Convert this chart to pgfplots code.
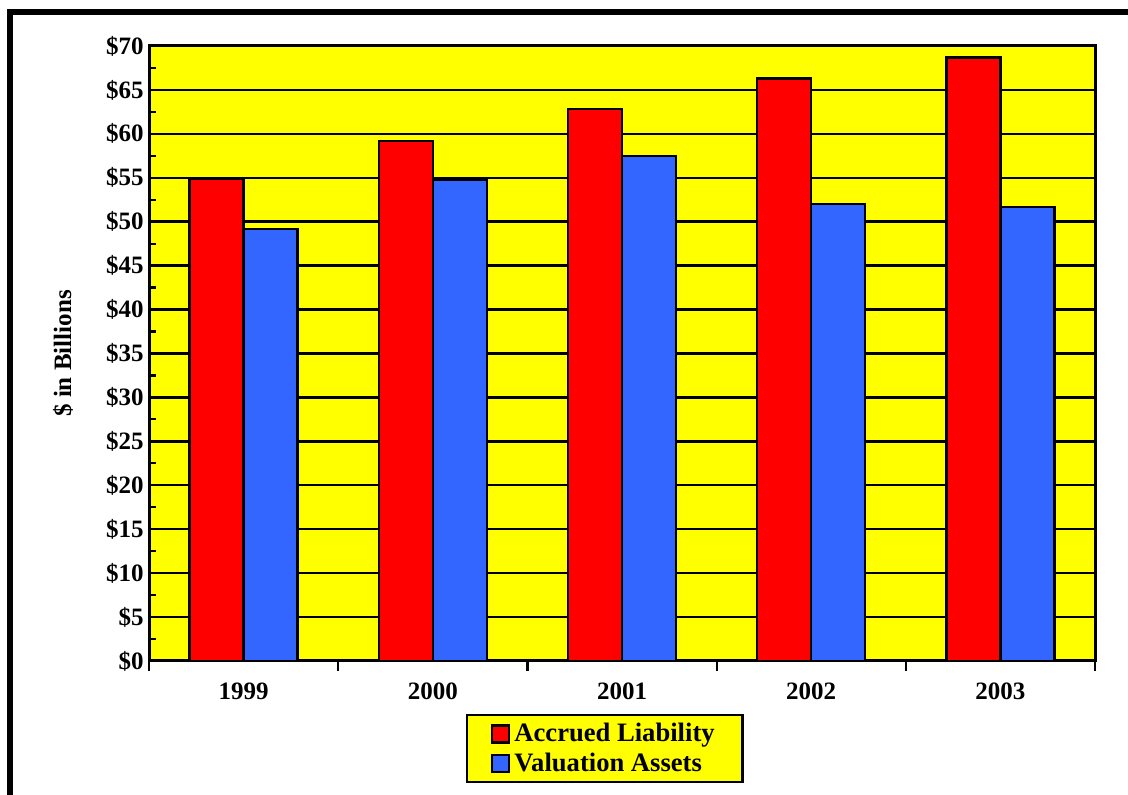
\documentclass[border=0pt]{standalone}
\usepackage{fontspec}
\setmainfont{Liberation Serif}
\usepackage{pgfplots}
\pgfplotsset{compat=1.18}
\definecolor{bgyellow}{HTML}{FFFF00}
\definecolor{barred}{HTML}{FF0000}
\definecolor{barblue}{HTML}{3366FF}
\newcommand{\lblfont}{\fontsize{12.5}{14}\selectfont\bfseries}
\begin{document}
\begin{tikzpicture}
  % frame (left and top edges)
  \draw[line width=2.75pt, line join=miter] (4.875pt,0pt) -- (4.875pt,391.375pt) -- (564pt,391.375pt);
  \begin{axis}[
      at={(74.5pt,67pt)}, anchor=south west,
      scale only axis,
      width=473pt, height=307.5pt,
      xmin=-0.5, xmax=4.5,
      ymin=0, ymax=70,
      axis background/.style={fill=bgyellow},
      axis line style={line width=1.5pt},
      ybar=0pt,
      bar width=0.285,
      xtick={-0.5,0.5,...,4.5},
      xticklabels={},
      extra x ticks={0,1,2,3,4},
      extra x tick labels={1999,2000,2001,2002,2003},
      extra x tick style={major tick length=0pt,
        xticklabel style={anchor=base, yshift=-19.5pt}},
      ytick={0,5,...,70},
      minor y tick num=1,
      yticklabel={\$\pgfmathprintnumber{\tick}},
      /pgf/number format/assume math mode=true,
      xtick pos=bottom, ytick pos=left,
      xtick align=outside, ytick align=inside,
      major tick length=5pt,
      minor tick length=3.5pt,
      tick style={black, line width=1.1pt},
      ymajorgrids,
      grid style={black, line width=1.2pt},
      ticklabel style={font=\lblfont},
      yticklabel style={anchor=east, inner sep=0pt, xshift=-2.5pt},
      ylabel={\$ in Billions},
      ylabel style={at={(axis description cs:-0.091,0.5)}, anchor=center, font=\lblfont},
      legend style={
          at={(0.482,-0.0862)}, anchor=north,
          draw=black, line width=1.2pt, fill=bgyellow,
          font=\fontsize{13.3}{15}\selectfont\bfseries,
          inner xsep=12pt, inner ysep=2pt,
          row sep=0pt
        },
      legend cell align=left,
      legend image code/.code={%
          \draw[#1, line width=1.1pt] (0pt,-4.25pt) rectangle (8.5pt,4.25pt);
        },
    ]
    \addplot[fill=barred, draw=black, line width=1.2pt]
    coordinates {(0,54.9) (1,59.2) (2,62.8) (3,66.3) (4,68.7)};
    \addplot[fill=barblue, draw=black, line width=1.2pt]
    coordinates {(0,49.2) (1,54.8) (2,57.5) (3,52.0) (4,51.7)};
    \legend{Accrued Liability,Valuation Assets}
  \end{axis}
  \pgfresetboundingbox
  \path[use as bounding box] (0pt,0pt) rectangle (564pt,397.5pt);
\end{tikzpicture}
\end{document}
